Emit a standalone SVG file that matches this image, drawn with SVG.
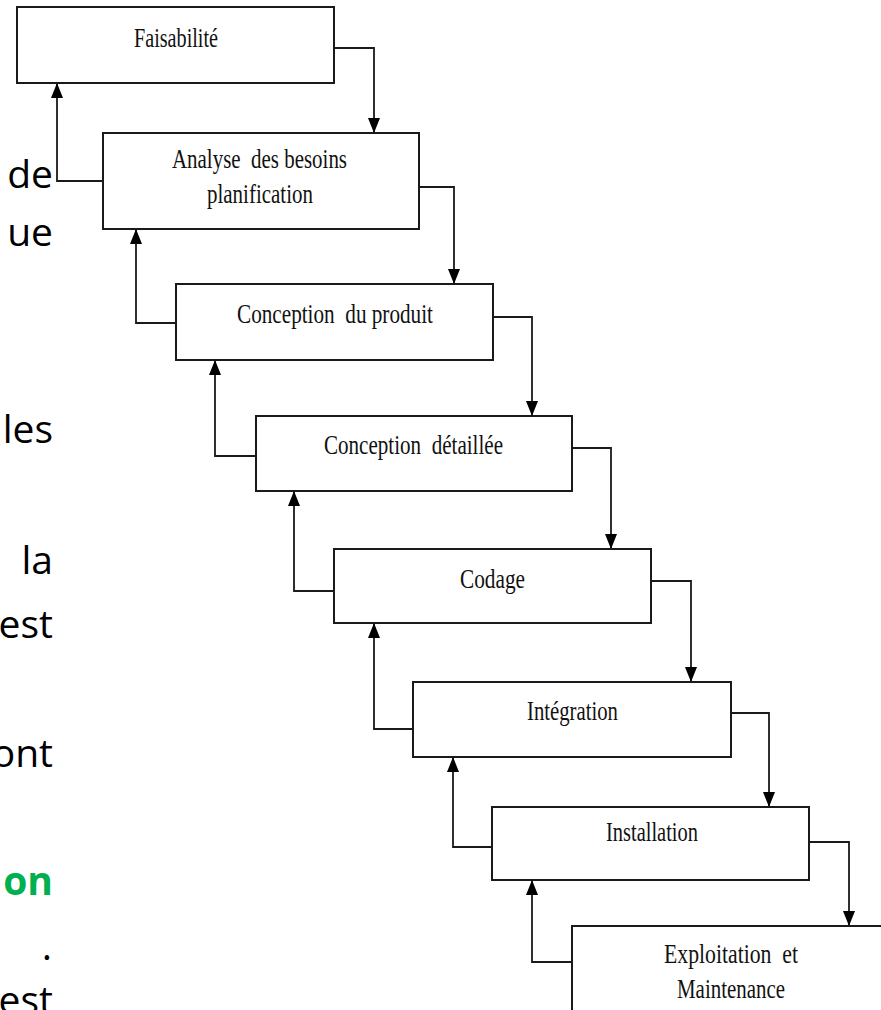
<svg xmlns="http://www.w3.org/2000/svg" width="881" height="1010" viewBox="0 0 881 1010">
<style>
.box{fill:#fff;stroke:#1a1a1a;stroke-width:2}
.lbl{font-family:"Liberation Serif","Times New Roman",serif;font-size:27px;fill:#111;text-anchor:start;white-space:pre}
.side{font-family:"Open Sans","Noto Sans",sans-serif;font-size:39px;fill:#000;text-anchor:end}
.green{fill:#00B050;font-weight:bold}
.con{fill:none;stroke:#1a1a1a;stroke-width:1.8;marker-end:url(#ah)}
</style>
<defs>
<marker id="ah" markerUnits="userSpaceOnUse" markerWidth="16" markerHeight="12" viewBox="0 0 16 12" refX="15" refY="6" orient="auto">
<path d="M0,0 L15,6 L0,12 Z" fill="#000"/>
</marker>
</defs>
<rect width="881" height="1010" fill="#fff"/>
<g id="side-text">
<text class="side" x="53" y="188">de</text>
<text class="side" x="53" y="246">ue</text>
<text class="side" x="53" y="443">les</text>
<text class="side" x="53" y="574">la</text>
<text class="side" x="53" y="638">est</text>
<text class="side" x="53" y="767">ont</text>
<text class="side green" x="53" y="895">on</text>
<text class="side" x="52" y="960">.</text>
<text class="side" x="53" y="1014">est</text>
</g>
<g id="connectors">
<path class="con" d="M334,48 H374 V133"/>
<path class="con" d="M103,181 H57 V83"/>
<path class="con" d="M419,187 H454 V284"/>
<path class="con" d="M176,323 H136 V229"/>
<path class="con" d="M493,317 H532 V416"/>
<path class="con" d="M256,456 H215 V360"/>
<path class="con" d="M572,448 H611 V549"/>
<path class="con" d="M334,591 H294 V491"/>
<path class="con" d="M651,581 H691 V682"/>
<path class="con" d="M413,729 H374 V623"/>
<path class="con" d="M731,713 H769 V807"/>
<path class="con" d="M492,847 H453 V757"/>
<path class="con" d="M809,842 H849 V926"/>
<path class="con" d="M572,962 H532 V880"/>
</g>
<g id="n1"><rect class="box" x="17" y="7" width="317" height="76"/>
<text class="lbl" x="134" y="47" textLength="84" lengthAdjust="spacingAndGlyphs">Faisabilité</text></g>
<g id="n2"><rect class="box" x="103" y="133" width="316" height="96"/>
<text class="lbl" x="172" y="168" textLength="175" lengthAdjust="spacingAndGlyphs" xml:space="preserve">Analyse  des besoins</text>
<text class="lbl" x="207" y="203" textLength="106" lengthAdjust="spacingAndGlyphs">planification</text></g>
<g id="n3"><rect class="box" x="176" y="284" width="317" height="76"/>
<text class="lbl" x="237" y="323" textLength="196" lengthAdjust="spacingAndGlyphs" xml:space="preserve">Conception  du produit</text></g>
<g id="n4"><rect class="box" x="256" y="416" width="316" height="75"/>
<text class="lbl" x="324" y="454" textLength="179" lengthAdjust="spacingAndGlyphs" xml:space="preserve">Conception  détaillée</text></g>
<g id="n5"><rect class="box" x="334" y="549" width="317" height="74"/>
<text class="lbl" x="460" y="588" textLength="65" lengthAdjust="spacingAndGlyphs">Codage</text></g>
<g id="n6"><rect class="box" x="413" y="682" width="318" height="75"/>
<text class="lbl" x="527" y="720" textLength="91" lengthAdjust="spacingAndGlyphs">Intégration</text></g>
<g id="n7"><rect class="box" x="492" y="807" width="317" height="73"/>
<text class="lbl" x="606" y="841" textLength="92" lengthAdjust="spacingAndGlyphs">Installation</text></g>
<g id="n8"><rect class="box" x="572" y="926" width="318" height="100"/>
<text class="lbl" x="664" y="963" textLength="134" lengthAdjust="spacingAndGlyphs" xml:space="preserve">Exploitation  et</text>
<text class="lbl" x="677" y="998" textLength="108" lengthAdjust="spacingAndGlyphs">Maintenance</text></g>
</svg>
